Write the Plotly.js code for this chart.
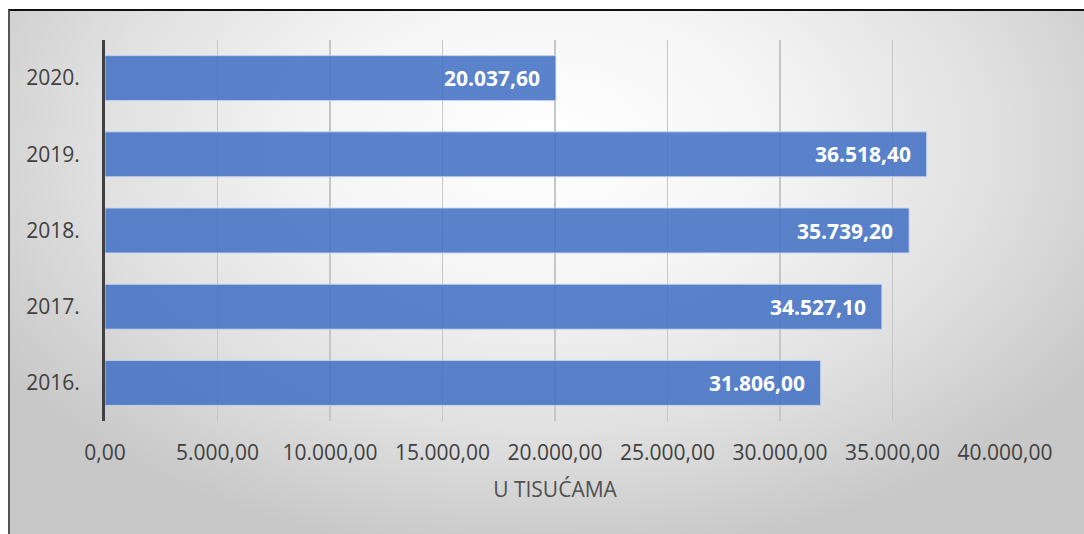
<!DOCTYPE html>
<html>
<head>
<meta charset="utf-8">
<script src="https://cdn.plot.ly/plotly-3.0.1.min.js"></script>
<style>
html,body{margin:0;padding:0;background:#fff;width:1084px;height:534px;overflow:hidden;}
#bg{position:absolute;left:8px;top:9px;width:1076px;height:525px;box-sizing:border-box;
border-top:2px solid #111;border-left:2px solid #555;
background:radial-gradient(ellipse 60% 80% at 50% 25%, #ffffff 0%, #f5f5f5 35%, #e0e0e0 70%, #c8c8c8 100%);}
#chart{position:absolute;left:0;top:0;width:1084px;height:534px;}
</style>
</head>
<body>
<div id="bg"></div>
<div id="chart"></div>
<script>
const years = ["2016.", "2017.", "2018.", "2019.", "2020."];
const values = [31806.00, 34527.10, 35739.20, 36518.40, 20037.60];
const tickValues = [0, 5000, 10000, 15000, 20000, 25000, 30000, 35000, 40000];
const axisTitle = "U TISUĆAMA";

const positions = years.map((_, i) => i);

function fmt(v){
  const parts = v.toFixed(2).split(".");
  parts[0] = parts[0].replace(/\B(?=(\d{3})+(?!\d))/g, ".");
  return parts[0] + "," + parts[1];
}

const trace = {
  type: "bar",
  orientation: "h",
  y: positions,
  x: values,
  marker: {color: "rgba(68,114,196,0.88)", line: {color: "rgba(200,214,238,0.9)", width: 1}},
  hoverinfo: "none"
};

const annotations = values.map((v, i) => ({
  x: v, y: positions[i], xref: "x", yref: "y",
  text: fmt(v), showarrow: false, xanchor: "right", xshift: -14,
  font: {family: "Open Sans", size: 21, color: "#ffffff", weight: "bold"}
}));

const layout = {
  width: 1084, height: 534,
  paper_bgcolor: "rgba(0,0,0,0)",
  plot_bgcolor: "rgba(0,0,0,0)",
  separators: ",.",
  margin: {l: 105, r: 79, t: 40, b: 113},
  showlegend: false,
  bargap: 0.41,
  font: {family: "Open Sans", size: 21, color: "#404040"},
  xaxis: {
    range: [0, 40000],
    tickvals: tickValues,
    tickformat: ",.2f",
    showgrid: true, gridcolor: "#c6c6c6", gridwidth: 1.5,
    zeroline: false, showline: false,
    ticks: "", ticklabelstandoff: 17,
    tickfont: {family: "Open Sans", size: 21, color: "#404040"},
    title: {text: axisTitle, font: {family: "Open Sans", size: 21, color: "#505050"}, standoff: 17}
  },
  yaxis: {
    range: [-0.5, 4.5],
    tickvals: positions,
    ticktext: years,
    showline: true, linecolor: "#404040", linewidth: 3,
    showgrid: false, zeroline: false,
    ticks: "", ticklabelstandoff: 18,
    tickfont: {family: "Open Sans", size: 21, color: "#404040"}
  },
  annotations: annotations
};

Plotly.newPlot("chart", [trace], layout, {staticPlot: true, displayModeBar: false});
</script>
</body>
</html>
